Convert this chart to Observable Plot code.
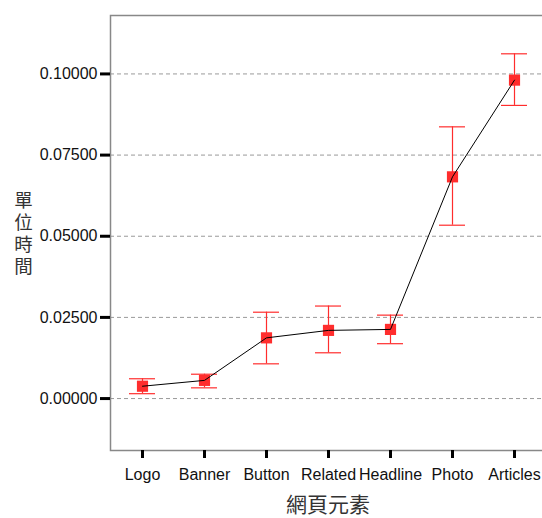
<!DOCTYPE html>
<html>
<head>
<meta charset="utf-8">
<script src="https://cdn.jsdelivr.net/npm/d3@7"></script>
<script src="https://cdn.jsdelivr.net/npm/@observablehq/plot@0.6"></script>
<style>
  html, body { margin: 0; padding: 0; background: white; }
</style>
</head>
<body>
<div id="chart"></div>
<script>
const categories = ["Logo", "Banner", "Button", "Related", "Headline", "Photo", "Articles"];
const means = [0.0038, 0.0056, 0.0187, 0.0210, 0.0213, 0.0683, 0.0981];
const lower = [0.0015, 0.0033, 0.0107, 0.0141, 0.0169, 0.0534, 0.0903];
const upper = [0.0061, 0.0075, 0.0266, 0.0285, 0.0257, 0.0837, 0.1062];
const yTicks = [0, 0.025, 0.05, 0.075, 0.1];
const xTitle = "網頁元素";
const yTitle = "單位時間";

const data = categories.map((c, i) => ({cat: c, mean: means[i], lo: lower[i], hi: upper[i]}));
const red = "#ff2d2d";

const chart = Plot.plot({
  width: 542,
  height: 518,
  marginLeft: 110,
  marginRight: -3,
  marginTop: 15,
  marginBottom: 68,
  x: {type: "point", domain: categories, padding: 0.5},
  y: {domain: [-0.016, 0.118]},
  style: {fontFamily: "'Liberation Sans', Arial, sans-serif", fontSize: "16px", color: "#111", background: "white"},
  marks: [
    Plot.ruleY(yTicks, {stroke: "#9a9a9a", strokeDasharray: "4,3", strokeWidth: 1}),
    Plot.frame({stroke: "#888", strokeWidth: 1.5}),
    Plot.axisY({ticks: yTicks, tickSize: 10, strokeWidth: 3, stroke: "black", tickPadding: 3, tickFormat: d => d.toFixed(5), label: null, fontSize: 16}),
    Plot.axisX({tickSize: 8, strokeWidth: 3, stroke: "black", tickPadding: 10, label: null, fontSize: 16}),
    Plot.ruleX(data, {x: "cat", y1: "lo", y2: "hi", stroke: red, strokeWidth: 1.2}),
    Plot.ruleY(data, {x1: "cat", x2: "cat", y: "lo", insetLeft: -13, insetRight: -13, stroke: red, strokeWidth: 1.2}),
    Plot.ruleY(data, {x1: "cat", x2: "cat", y: "hi", insetLeft: -13, insetRight: -13, stroke: red, strokeWidth: 1.2}),
    Plot.dot(data, {x: "cat", y: "mean", symbol: "square", r: 6.3, fill: red, stroke: "none"}),
    Plot.line(data, {x: "cat", y: "mean", stroke: "black", strokeWidth: 1}),
    Plot.text([yTitle.split("").join("\n")], {text: d => d, frameAnchor: "left", dx: -87, fontSize: 18.5, lineHeight: 1.2, lineAnchor: "middle", fill: "#333", fontFamily: "'Noto Sans CJK TC', sans-serif", textAnchor: "middle"}),
    Plot.text([xTitle], {text: d => d, frameAnchor: "bottom", dy: 55, fontSize: 21, lineAnchor: "middle", fill: "#333", fontFamily: "'Noto Sans CJK TC', sans-serif"})
  ]
});
document.getElementById("chart").appendChild(chart);
</script>
</body>
</html>
